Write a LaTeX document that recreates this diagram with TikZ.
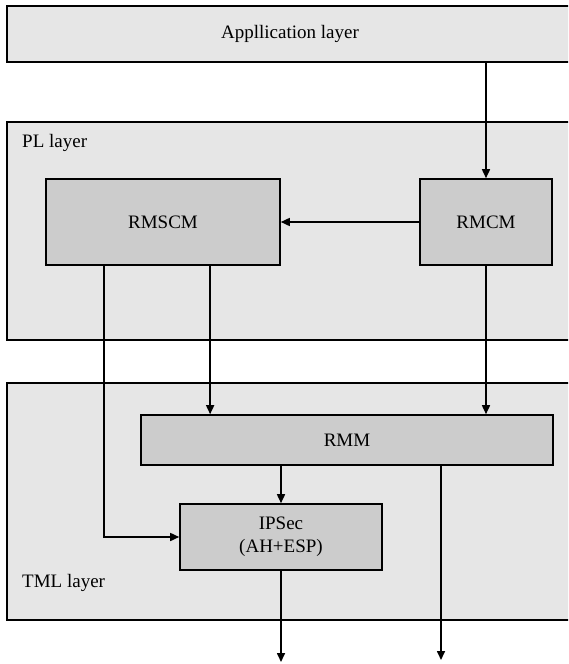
\documentclass[tikz,border=0pt]{standalone}
\usepackage{fontspec}
\setmainfont{Liberation Serif}
\usetikzlibrary{arrows.meta,calc}
\definecolor{layergray}{HTML}{E6E6E6}
\definecolor{boxgray}{HTML}{CCCCCC}
\begin{document}
\begin{tikzpicture}[x=1pt,y=-1pt,
  every node/.style={font=\fontsize{19}{23}\selectfont},
  layerbox/.style={draw=black, line width=1.6pt, fill=layergray, inner sep=0pt, minimum width=566pt},
  modbox/.style={draw=black, line width=1.6pt, fill=boxgray, inner sep=0pt, align=center},
  flow/.style={draw=black, line width=1.6pt, -{Triangle[length=9pt,width=8pt]}},
  layerlabel/.style={anchor=west, inner sep=0pt}
]
\useasboundingbox (0,0) rectangle (568,664);
\clip (0,0) rectangle (568,664);
% layers
\node[layerbox, minimum height=56pt] (app) at (290,34) {Appllication layer};
\node[layerbox, minimum height=218pt] (pl) at (290,231) {};
\node[layerbox, minimum height=237pt] (tml) at (290,501.5) {};
\node[layerlabel] (pllab) at (22,143) {PL layer};
\node[layerlabel] (tmllab) at (22,583) {TML layer};
% modules
\node[modbox, minimum width=234pt, minimum height=86pt] (rmscm) at (163,222) {RMSCM};
\node[modbox, minimum width=132pt, minimum height=86pt] (rmcm) at (486,222) {RMCM};
\node[modbox, minimum width=412pt, minimum height=50pt] (rmm) at (347,440) {RMM};
\node[modbox, minimum width=202pt, minimum height=66pt] (ipsec) at (281,537) {IPSec\\(AH+ESP)};
% free ends
\coordinate (out1) at (281,662);
\coordinate (out2) at (441,660);
% connectors
\draw[flow] (app.south -| rmcm.north) -- (rmcm.north);
\draw[flow] (rmcm.west) -- (rmscm.east);
\coordinate (s1) at ($(rmscm.south west)!0.25!(rmscm.south east)$);
\coordinate (s2) at ($(rmscm.south west)!0.7!(rmscm.south east)$);
\draw[flow] (s2) -- (s2 |- rmm.north);
\draw[flow] (rmcm.south) -- (rmcm.south |- rmm.north);
\draw[flow] (s1) |- (ipsec.west);
\draw[flow] (rmm.south -| ipsec.north) -- (ipsec.north);
\draw[flow] (ipsec.south) -- (out1);
\draw[flow] (rmm.south -| out2) -- (out2);
\end{tikzpicture}
\end{document}
